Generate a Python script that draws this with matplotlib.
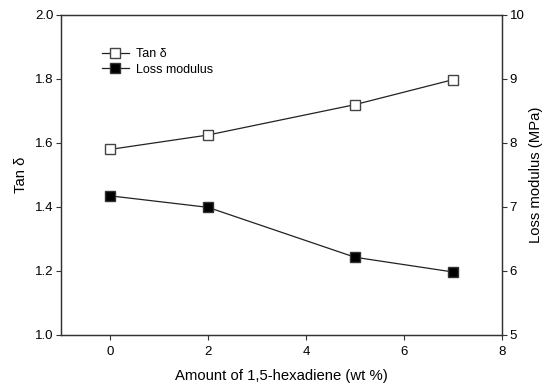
import numpy as np
import matplotlib.pyplot as plt

plt.rcParams['font.family'] = ['Liberation Sans', 'DejaVu Sans']

# dados
hexadieno = [0, 2, 5, 7]
tan_delta = [1.579, 1.624, 1.719, 1.797]
loss_mod = [7.17, 6.99, 6.21, 5.98]

fig = plt.figure(figsize=(5.48, 3.86), dpi=100)
ax = fig.add_axes([0.1113, 0.1329, 0.8047, 0.829])
ax2 = ax.twinx()

l1, = ax.plot(hexadieno, tan_delta, color="#222222", lw=0.9, marker="s",
              ms=6.8, mfc="white", mec="#444444", mew=1.0, label="Tan δ")
l2, = ax2.plot(hexadieno, loss_mod, color="#222222", lw=0.9, marker="s",
               ms=6.8, mfc="black", mec="#333333", mew=1.0, label="Loss modulus")

ax.set_xlim(-1, 8)
ax.set_ylim(1.0, 2.0)
ax2.set_ylim(5, 10)
ax.set_xticks([0, 2, 4, 6, 8])
ax.set_yticks(np.arange(1.0, 2.01, 0.2))
ax.set_yticklabels(["%.1f" % v for v in np.arange(1.0, 2.01, 0.2)])
ax2.set_yticks([5, 6, 7, 8, 9, 10])

for a in (ax, ax2):
    for s in a.spines.values():
        s.set_color("#333333")
        s.set_linewidth(0.9)
    a.tick_params(direction="out", length=3.5, width=0.8, colors="#333333",
                  labelcolor="black", labelsize=9.5, pad=2)
ax.tick_params(axis="x", pad=4.5)

ax.set_xlabel("Amount of 1,5-hexadiene (wt %)", fontsize=10.7, labelpad=8)
ax.set_ylabel("Tan δ", fontsize=10.7, labelpad=5)
ax2.set_ylabel("Loss modulus (MPa)", fontsize=10.7, labelpad=3)

ax.legend(handles=[l1, l2], loc="upper left", bbox_to_anchor=(0.0815, 0.9115),
          frameon=False, fontsize=9, handlelength=2.15, handletextpad=0.55,
          labelspacing=0.3, borderaxespad=0)

fig.savefig("out.png", dpi=100)
